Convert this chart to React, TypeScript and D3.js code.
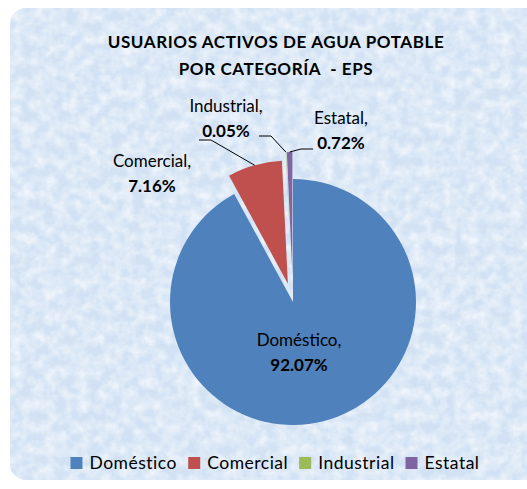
import React from "react";
import * as d3 from "d3";

const categories = ["Doméstico", "Comercial", "Industrial", "Estatal"];
const values = [92.07, 7.16, 0.05, 0.72];
const valueLabels = ["92.07%", "7.16%", "0.05%", "0.72%"];
const colors = ["#4F81BD", "#C0504D", "#9BBB59", "#8064A2"];
const explode = [0, 19, 27, 27];
const titleLines = ["USUARIOS ACTIVOS DE AGUA POTABLE", "POR CATEGORÍA  - EPS"];

const W = 527;
const H = 489;
const CX = 293;
const CY = 302;
const R = 123;
const FONT = "Lato, 'Open Sans', sans-serif";

// label layout: center x, first baseline, and leader anchor
const labelLayout = [
  { x: 299, y: 346, anchor: null as null | [number, number], side: 0 },
  { x: 152, y: 167, anchor: [199, 140] as [number, number], side: 1 },
  { x: 226, y: 112, anchor: [259, 136] as [number, number], side: 1 },
  { x: 341, y: 124, anchor: [313, 149] as [number, number], side: -1 },
];

function measure(text: string, font: string, spacing: number): number {
  const c = document.createElement("canvas").getContext("2d");
  if (!c) return text.length * 9;
  c.font = font;
  return c.measureText(text).width + spacing * text.length;
}

export default function App() {
  const pie = d3.pie<number>().sort(null).value((d) => d).startAngle(0).endAngle(2 * Math.PI);
  const arcs = pie(values);
  const arc = d3.arc<d3.PieArcDatum<number>>().innerRadius(0).outerRadius(R);

  const offsets = arcs.map((a, i) => {
    const mid = (a.startAngle + a.endAngle) / 2;
    return [Math.sin(mid) * explode[i], -Math.cos(mid) * explode[i]];
  });

  // legend layout
  const legSize = 17.5;
  const legSpacing = 0.5;
  const legFont = `${legSize}px ${FONT}`;
  const sq = 12;
  const gapSqText = 7;
  const gapItems = 11;
  const widths = categories.map((c) => measure(c, legFont, legSpacing));
  const itemW = widths.map((w) => sq + gapSqText + w);
  const total = itemW.reduce((s, w) => s + w, 0) + gapItems * (categories.length - 1);
  let lx = 275 - total / 2;
  const legendX = itemW.map((w) => {
    const x = lx;
    lx += w + gapItems;
    return x;
  });

  return (
    <div style={{ position: "absolute", left: 0, top: 0 }}>
      <svg width={W} height={H} style={{ display: "block" }}>
        <defs>
          <filter id="tex" x="0" y="0" width="100%" height="100%">
            <feTurbulence type="fractalNoise" baseFrequency="0.09" numOctaves="3" seed="11" result="n" />
            <feColorMatrix
              in="n"
              type="matrix"
              values="0 0 0 0 1  0 0 0 0 1  0 0 0 0 1  1.8 0 0 0 -0.55"
            />
          </filter>
          <clipPath id="panel">
            <rect x={10} y={8} width={540} height={472} rx={16} ry={16} />
          </clipPath>
        </defs>
        <rect x={0} y={0} width={W} height={H} fill="#ffffff" />
        <g clipPath="url(#panel)">
          <rect x={10} y={8} width={540} height={472} fill="#d2e2f4" />
          <rect x={10} y={8} width={540} height={472} filter="url(#tex)" opacity={0.65} />
        </g>

        {titleLines.map((t, i) => (
          <text
            key={i}
            x={276}
            y={48 + i * 27}
            textAnchor="middle"
            fontFamily={FONT}
            fontWeight="bold"
            fontSize={17}
            letterSpacing={0.6}
            fill="#000"
            style={{ whiteSpace: "pre" }}
          >
            {t}
          </text>
        ))}

        <g>
          {arcs.map((a, i) => (
            <path
              key={i}
              d={arc(a) || ""}
              transform={`translate(${CX + offsets[i][0]},${CY + offsets[i][1]})`}
              fill={colors[i]}
            />
          ))}
        </g>

        {arcs.map((a, i) => {
          const L = labelLayout[i];
          if (!L.anchor) return null;
          const mid = (a.startAngle + a.endAngle) / 2;
          const px = CX + offsets[i][0] + Math.sin(mid) * R;
          const py = CY + offsets[i][1] - Math.cos(mid) * R;
          const [ax, ay] = L.anchor;
          const bx = ax + L.side * 12;
          return (
            <polyline
              key={"l" + i}
              points={`${ax},${ay} ${bx},${ay} ${px},${py}`}
              fill="none"
              stroke="#000"
              strokeWidth={1}
            />
          );
        })}

        {arcs.map((a, i) => {
          const L = labelLayout[i];
          return (
            <text key={"t" + i} textAnchor="middle" fontFamily={FONT} fontSize={17} fill="#000">
              <tspan x={L.x} y={L.y}>
                {categories[i] + ","}
              </tspan>
              <tspan x={L.x} y={L.y + 25} fontWeight="bold">
                {valueLabels[i]}
              </tspan>
            </text>
          );
        })}

        {categories.map((c, i) => (
          <g key={"lg" + i}>
            <rect x={legendX[i]} y={457} width={sq} height={sq} fill={colors[i]} />
            <text
              x={legendX[i] + sq + gapSqText}
              y={469}
              fontFamily={FONT}
              fontSize={legSize}
              letterSpacing={legSpacing}
              fill="#000"
            >
              {c}
            </text>
          </g>
        ))}
      </svg>
    </div>
  );
}
